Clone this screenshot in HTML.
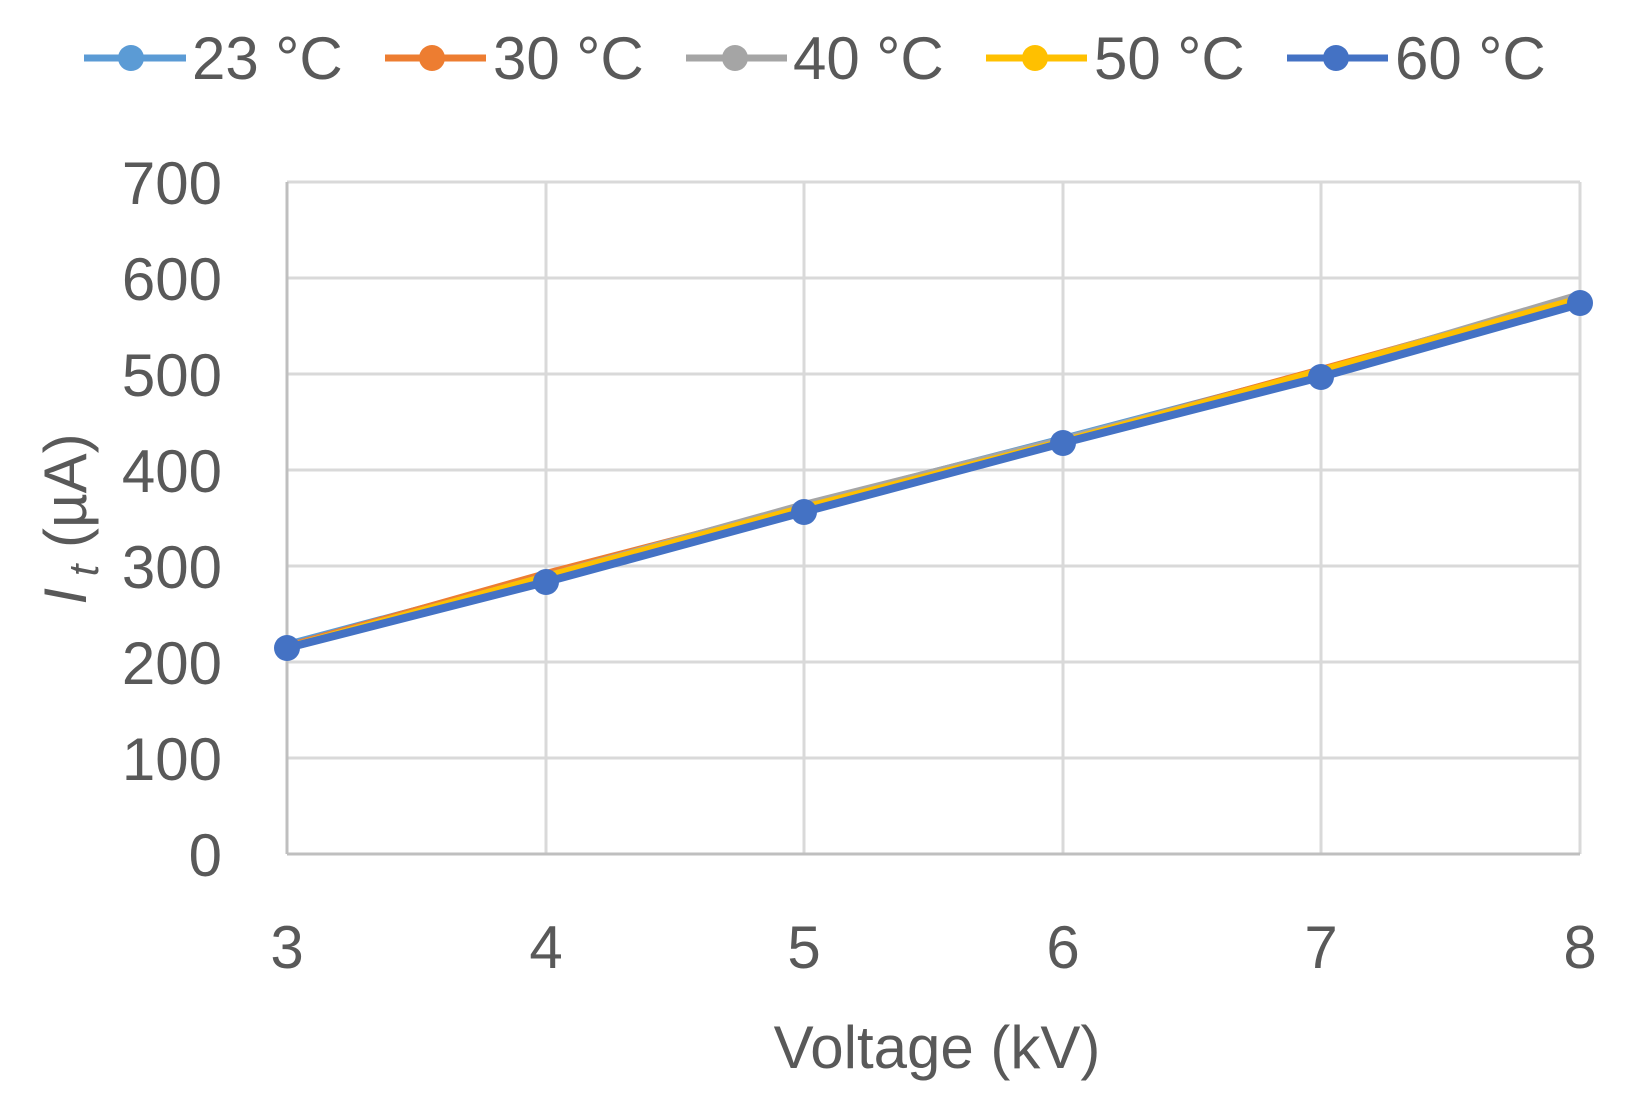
<!DOCTYPE html>
<html><head><meta charset="utf-8"><style>body{margin:0;background:#fff}</style></head><body>
<svg width="1630" height="1113" xmlns="http://www.w3.org/2000/svg" font-family="Liberation Sans, sans-serif" fill="#595959">
<g stroke="#d9d9d9" stroke-width="3">
<line x1="287" y1="182" x2="1580" y2="182"/><line x1="287" y1="278" x2="1580" y2="278"/><line x1="287" y1="374" x2="1580" y2="374"/><line x1="287" y1="470" x2="1580" y2="470"/><line x1="287" y1="566" x2="1580" y2="566"/><line x1="287" y1="662" x2="1580" y2="662"/><line x1="287" y1="758" x2="1580" y2="758"/>
<line x1="546" y1="182" x2="546" y2="854"/><line x1="804" y1="182" x2="804" y2="854"/><line x1="1063" y1="182" x2="1063" y2="854"/><line x1="1321" y1="182" x2="1321" y2="854"/><line x1="1580" y1="182" x2="1580" y2="854"/>
</g>
<g stroke="#bfbfbf" stroke-width="3"><line x1="287" y1="182" x2="287" y2="854"/><line x1="287" y1="854" x2="1580" y2="854"/></g>
<g font-size="60" text-anchor="end">
<text x="222" y="204">700</text><text x="222" y="300">600</text><text x="222" y="396">500</text><text x="222" y="492">400</text><text x="222" y="588">300</text><text x="222" y="684">200</text><text x="222" y="780">100</text><text x="222" y="876">0</text>
</g>
<g font-size="60" text-anchor="middle">
<text x="287" y="968">3</text><text x="546" y="968">4</text><text x="804" y="968">5</text><text x="1063" y="968">6</text><text x="1321" y="968">7</text><text x="1580" y="968">8</text>
<text x="937" y="1068">Voltage (kV)</text>
<text transform="translate(86,519) rotate(-90)"><tspan font-style="italic">I</tspan><tspan font-size="42" font-style="italic" dy="12"> t</tspan><tspan dy="-12"> (µA)</tspan></text>
</g>
<g stroke-width="8" fill="none">
<polyline stroke="#5b9bd5" points="287,645 546,576 804,506 1063,439 1321,371 1580,297"/>
<polyline stroke="#ed7d31" points="287,647 546,574 804,507 1063,441 1321,370 1580,298"/>
<polyline stroke="#a5a5a5" points="287,648 546,577 804,505 1063,440 1321,372 1580,295"/>
<polyline stroke="#ffc000" points="287,648 546,577 804,508 1063,442 1321,371 1580,299"/>
<polyline stroke="#4472c4" points="287,648 546,582 804,512 1063,443 1321,377 1580,304"/>
</g>
<g fill="#4472c4">
<circle cx="287" cy="648" r="13"/><circle cx="546" cy="582" r="13"/><circle cx="804" cy="512" r="13"/><circle cx="1063" cy="443" r="13"/><circle cx="1321" cy="377" r="13"/><circle cx="1580" cy="303" r="13"/>
</g>
<g stroke-width="7">
<line x1="84" y1="58" x2="186" y2="58" stroke="#5b9bd5"/><circle cx="131" cy="58" r="13" fill="#5b9bd5"/>
<line x1="385" y1="58" x2="486" y2="58" stroke="#ed7d31"/><circle cx="432" cy="58" r="13" fill="#ed7d31"/>
<line x1="686" y1="58" x2="787" y2="58" stroke="#a5a5a5"/><circle cx="735" cy="58" r="13" fill="#a5a5a5"/>
<line x1="986" y1="58" x2="1087" y2="58" stroke="#ffc000"/><circle cx="1035" cy="58" r="13" fill="#ffc000"/>
<line x1="1287" y1="58" x2="1388" y2="58" stroke="#4472c4"/><circle cx="1336" cy="58" r="13" fill="#4472c4"/>
</g>
<g font-size="60">
<text x="192" y="79">23 °C</text><text x="493" y="79">30 °C</text><text x="793" y="79">40 °C</text><text x="1094" y="79">50 °C</text><text x="1395" y="79">60 °C</text>
</g>
</svg>
</body></html>
